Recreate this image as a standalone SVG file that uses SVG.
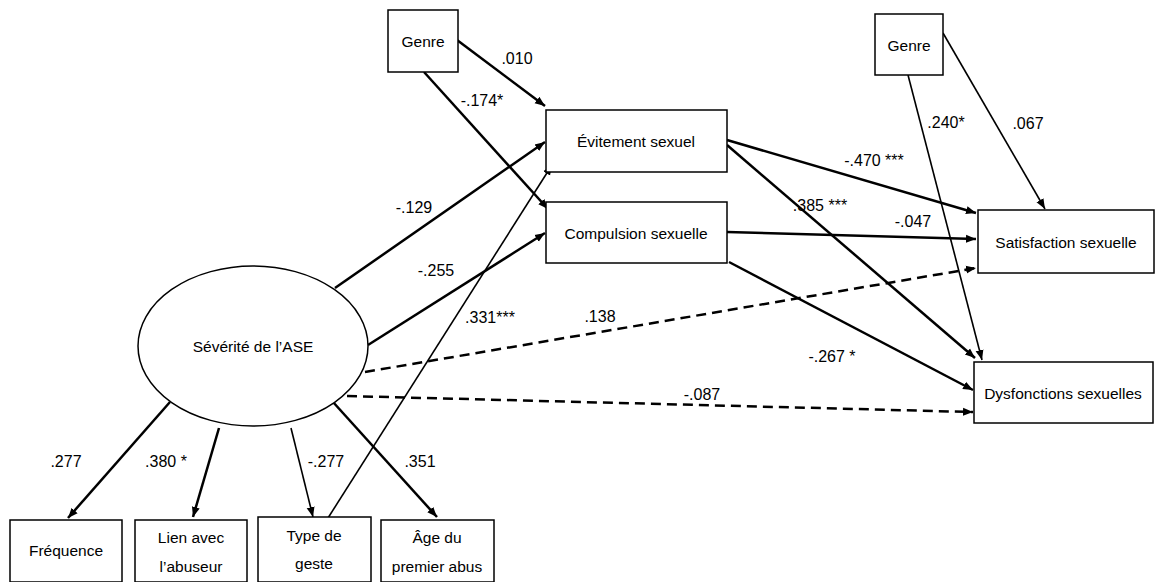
<svg xmlns="http://www.w3.org/2000/svg" width="1156" height="582" viewBox="0 0 1156 582">
<style>
.box{fill:#fff;stroke:#000;stroke-width:1.5}
.t{font-family:"Liberation Sans",Arial,sans-serif;font-size:15.5px;fill:#000;text-anchor:middle}
.l{font-family:"Liberation Sans",Arial,sans-serif;font-size:16px;fill:#000;text-anchor:middle}
.c{stroke:#000;fill:none;stroke-width:2.5}
.thin{stroke-width:1.6}
.d{stroke-dasharray:10 6}
</style>
<defs>
<marker id="a" viewBox="0 0 10 10" refX="10" refY="5" markerWidth="10" markerHeight="10" markerUnits="userSpaceOnUse" orient="auto">
<path d="M0,1 L10,5 L0,9 z" fill="#000"/>
</marker>
</defs>
<rect width="1156" height="582" fill="#fff"/>
<g id="connectors">
<line class="c" x1="457" y1="40" x2="545" y2="106" marker-end="url(#a)"/>
<line class="c" x1="424" y1="72" x2="548" y2="209" marker-end="url(#a)"/>
<line class="c" x1="335" y1="288" x2="545" y2="142" marker-end="url(#a)"/>
<line class="c" x1="368" y1="345" x2="545" y2="233" marker-end="url(#a)"/>
<line class="c thin" x1="328" y1="518" x2="552" y2="165" marker-end="url(#a)"/>
<line class="c" x1="727" y1="140" x2="976" y2="213" marker-end="url(#a)"/>
<line class="c" x1="727" y1="145" x2="975" y2="358" marker-end="url(#a)"/>
<line class="c" x1="727" y1="232" x2="976" y2="239" marker-end="url(#a)"/>
<line class="c" x1="729" y1="262" x2="973" y2="390" marker-end="url(#a)"/>
<line class="c d" x1="365" y1="372" x2="976" y2="268" marker-end="url(#a)"/>
<line class="c d" x1="347" y1="396" x2="973" y2="412" marker-end="url(#a)"/>
<line class="c thin" x1="943" y1="33" x2="1045" y2="209" marker-end="url(#a)"/>
<line class="c thin" x1="908" y1="75" x2="982" y2="360" marker-end="url(#a)"/>
<line class="c" x1="170" y1="402" x2="68" y2="518" marker-end="url(#a)"/>
<line class="c" x1="219" y1="428" x2="193" y2="517" marker-end="url(#a)"/>
<line class="c thin" x1="291" y1="428" x2="313" y2="517" marker-end="url(#a)"/>
<line class="c" x1="333" y1="402" x2="437" y2="517" marker-end="url(#a)"/>
</g>
<g id="labels">
<text class="l" x="517" y="64">.010</text>
<text class="l" x="482" y="106">-.174*</text>
<text class="l" x="414" y="213">-.129</text>
<text class="l" x="436" y="276">-.255</text>
<text class="l" x="490" y="323">.331***</text>
<text class="l" x="600" y="322">.138</text>
<text class="l" x="832" y="362">-.267 *</text>
<text class="l" x="702" y="400">-.087</text>
<text class="l" x="874" y="166">-.470 ***</text>
<text class="l" x="820" y="211">.385 ***</text>
<text class="l" x="913" y="227">-.047</text>
<text class="l" x="946" y="128">.240*</text>
<text class="l" x="1028" y="129">.067</text>
<text class="l" x="66" y="467">.277</text>
<text class="l" x="166" y="467">.380 *</text>
<text class="l" x="326" y="467">-.277</text>
<text class="l" x="420" y="467">.351</text>
</g>
<g id="genre1"><rect class="box" x="388" y="10" width="70" height="62"/><text class="t" x="423" y="47">Genre</text></g>
<g id="genre2"><rect class="box" x="875" y="14" width="68" height="61"/><text class="t" x="909" y="51">Genre</text></g>
<g id="evitement"><rect class="box" x="546" y="110" width="181" height="62"/><text class="t" x="636" y="147">Évitement sexuel</text></g>
<g id="compulsion"><rect class="box" x="546" y="202" width="181" height="61"/><text class="t" x="636" y="239">Compulsion sexuelle</text></g>
<g id="satisfaction"><rect class="box" x="978" y="210" width="176" height="63"/><text class="t" x="1066" y="248">Satisfaction sexuelle</text></g>
<g id="dysfonctions"><rect class="box" x="974" y="362" width="179" height="61"/><text class="t" x="1063" y="399">Dysfonctions sexuelles</text></g>
<g id="severite"><ellipse class="box" cx="253" cy="346" rx="115" ry="80" stroke-width="1"/><text class="t" x="253" y="352">Sévérité de l’ASE</text></g>
<g id="frequence"><rect class="box" x="10" y="520" width="112" height="62"/><text class="t" x="66" y="556">Fréquence</text></g>
<g id="lien"><rect class="box" x="135" y="520" width="112" height="62"/><text class="t" x="191" y="543">Lien avec</text><text class="t" x="191" y="572">l’abuseur</text></g>
<g id="type"><rect class="box" x="258" y="517" width="113" height="65"/><text class="t" x="314" y="541">Type de</text><text class="t" x="314" y="569">geste</text></g>
<g id="age"><rect class="box" x="381" y="520" width="113" height="62"/><text class="t" x="437" y="543">Âge du</text><text class="t" x="437" y="572">premier abus</text></g>
</svg>
